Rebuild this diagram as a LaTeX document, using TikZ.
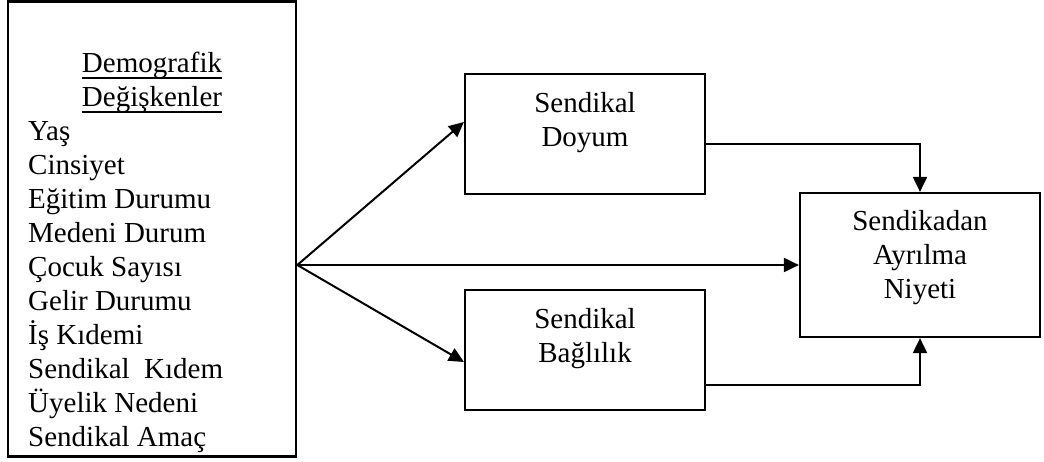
\documentclass[tikz,border=0pt]{standalone}
\usepackage{fontspec}
\setmainfont{Liberation Serif}
\usetikzlibrary{arrows.meta}
\newcommand{\ulword}[1]{\setbox0\hbox{#1}\rlap{\rule[-6.5pt]{\wd0}{2pt}}\box0}
\begin{document}
\begin{tikzpicture}[x=1pt,y=-1pt,
  every node/.style={font=\fontsize{29}{34}\selectfont},
  box/.style={draw,line width=2.2pt,inner sep=0pt,minimum width=240pt},
  txt/.style={inner sep=0pt,align=center,anchor=base},
  conn/.style={line width=2pt,-{Triangle[length=15pt,width=14pt]}}]
\useasboundingbox (0,0) rectangle (1044,461);
% boxes
\node[box,minimum width=288pt,minimum height=455pt,line width=2.6pt] (L) at (152,229) {};
\node[box,minimum height=120pt] (D) at (585,134) {};
\node[box,minimum height=120pt] (B) at (585,350) {};
\node[box,minimum height=144pt] (S) at (920,265) {};
% texts (anchored at the baseline of their last line)
\node[txt] (Lhead) at (152,106) {\ulword{Demografik}\\\ulword{Değişkenler}};
\node[inner sep=0pt,align=left,anchor=base west] (Litems) at (28,446)
  {Yaş\\Cinsiyet\\Eğitim Durumu\\Medeni Durum\\Çocuk Sayısı\\Gelir Durumu\\İş Kıdemi\\Sendikal~ Kıdem\\Üyelik Nedeni\\Sendikal Amaç};
\node[txt] (Dtext) at (585,146) {Sendikal\\Doyum};
\node[txt] (Btext) at (585,362) {Sendikal\\Bağlılık};
\node[txt] (Stext) at (920,298) {Sendikadan\\Ayrılma\\Niyeti};
% connectors
\coordinate (hub) at (L.east |- S.west);
\draw[conn] (hub) -- ([yshift=12pt]D.west);
\draw[conn] (hub) -- ([yshift=-12pt]B.west);
\draw[conn] (hub) -- (S.west);
\draw[conn] ([yshift=-10pt]D.east) -| (S.north);
\draw[conn] ([yshift=-35pt]B.east) -| (S.south);
\end{tikzpicture}
\end{document}
